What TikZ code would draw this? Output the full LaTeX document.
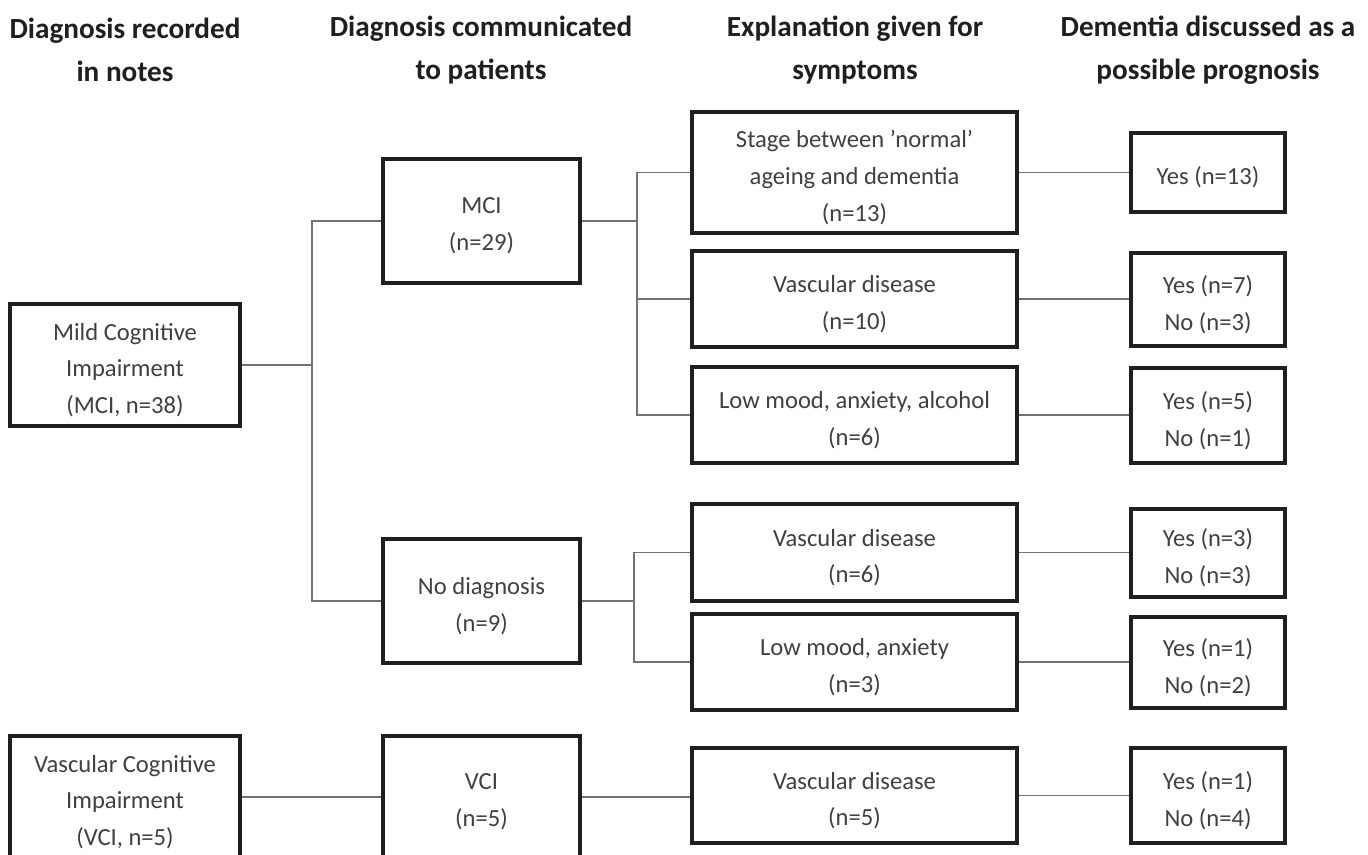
\documentclass[tikz,border=0pt]{standalone}
\usepackage{fontspec}
\setmainfont{Carlito}
\begin{document}
\begin{tikzpicture}[x=0.5pt,y=-0.5pt,
  box/.style={draw=black!88, line width=1.6pt, fill=white, inner sep=0pt},
  boxtext/.style={align=center, text=black!75, inner sep=0pt,
    font=\fontsize{12.3}{18.3}\selectfont},
  head/.style={align=center, text=black!88, inner sep=0pt,
    font=\fontsize{14.6}{21.5}\selectfont\bfseries},
  link/.style={draw=black!55, line width=0.65pt}]
% a framed box given by its corners, with its text set slightly below centre
\newcommand\flowbox[6]{%
  \node[box, minimum width={(#4-#2)*0.5pt}, minimum height={(#5-#3)*0.5pt}]
    (#1) at ({(#2+#4)/2},{(#3+#5)/2}) {};
  \node[boxtext] (#1-t) at ([yshift=-2.5pt]#1.center) {#6};}
\useasboundingbox (0,0) rectangle (1368,855);
\clip (0,0) rectangle (1368,855);
\fill[white] (0,0) rectangle (1368,855);

% column headings
\node[head] (h1) at (125,50)  {Diagnosis recorded\\in notes};
\node[head] (h2) at (481,50)  {Diagnosis communicated\\to patients};
\node[head] (h3) at (855,50)  {Explanation given for\\symptoms};
\node[head] (h4) at (1208,50) {Dementia discussed as a\\possible prognosis};

% recorded diagnosis
\flowbox{mcirec}{10}{304}{240}{426}{Mild Cognitive\\Impairment\\(MCI, n=38)}
\flowbox{vcirec}{10}{736}{240}{858}{Vascular Cognitive\\Impairment\\(VCI, n=5)}

% communicated diagnosis
\flowbox{mci}{383}{159}{580}{283}{MCI\\(n=29)}
\flowbox{nodx}{383}{539}{580}{663}{No diagnosis\\(n=9)}
\flowbox{vci}{383}{736}{580}{858}{VCI\\(n=5)}

% explanation given
\flowbox{stage}{692}{112}{1017}{233}{Stage between ’normal’\\ageing and dementia\\(n=13)}
\flowbox{vasa}{692}{251}{1017}{347}{Vascular disease\\(n=10)}
\flowbox{lowa}{692}{367}{1017}{463}{Low mood, anxiety, alcohol\\(n=6)}
\flowbox{vasb}{692}{504}{1017}{601}{Vascular disease\\(n=6)}
\flowbox{lowb}{692}{614}{1017}{710}{Low mood, anxiety\\(n=3)}
\flowbox{vasc}{692}{748}{1017}{843}{Vascular disease\\(n=5)}

% dementia discussed
\flowbox{pa}{1131}{133}{1285}{212}{Yes (n=13)}
\flowbox{pb}{1131}{253}{1285}{346}{Yes (n=7)\\No (n=3)}
\flowbox{pc}{1131}{368}{1285}{463}{Yes (n=5)\\No (n=1)}
\flowbox{pd}{1131}{509}{1285}{597}{Yes (n=3)\\No (n=3)}
\flowbox{pe}{1131}{617}{1285}{708}{Yes (n=1)\\No (n=2)}
\flowbox{pf}{1131}{748}{1285}{843}{Yes (n=1)\\No (n=4)}

% branch points
\coordinate (j1) at (312,365);
\coordinate (j2) at (637,221);
\coordinate (j3) at (634,601);

% connectors
\draw[link] (mcirec.east) -- (j1);
\draw[link] (mci.west) -| (j1) |- (nodx.west);
\draw[link] (mci.east) -- (j2);
\draw[link] (stage.west) -| (j2) |- (lowa.west);
\draw[link] (vasa.west) -- (vasa.west -| j2);
\draw[link] (nodx.east) -- (j3);
\draw[link] (vasb.west) -| (j3) |- (lowb.west);
\draw[link] (vcirec.east |- vci.west) -- (vci.west);
\draw[link] (vci.east) -- (vci.east -| vasc.west);
\draw[link] (stage.east) -- (stage.east -| pa.west);
\draw[link] (vasa.east) -- (vasa.east -| pb.west);
\draw[link] (lowa.east) -- (lowa.east -| pc.west);
\draw[link] (vasb.east) -- (vasb.east -| pd.west);
\draw[link] (lowb.east) -- (lowb.east -| pe.west);
\draw[link] (vasc.east) -- (vasc.east -| pf.west);
\end{tikzpicture}
\end{document}
